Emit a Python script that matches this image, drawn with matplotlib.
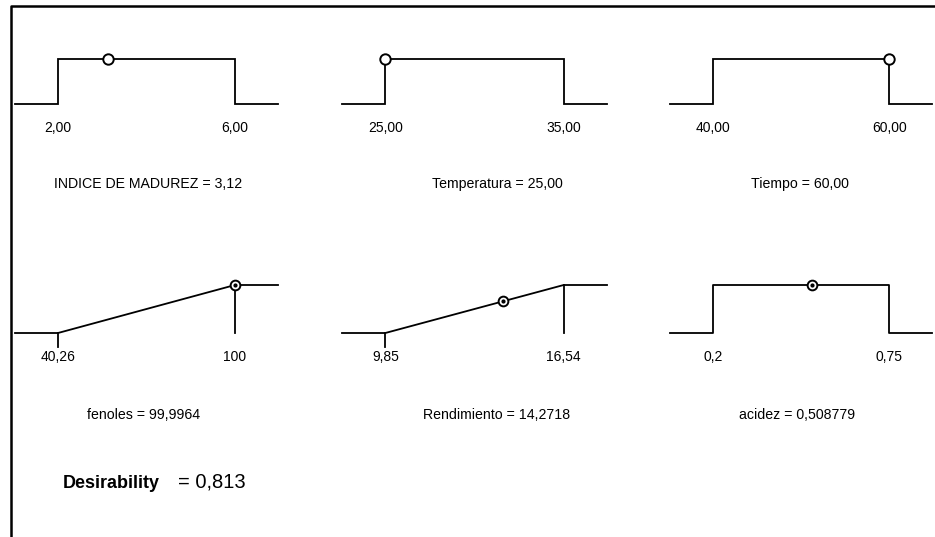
import matplotlib
matplotlib.use("Agg")
import matplotlib.pyplot as plt
from matplotlib.lines import Line2D
from matplotlib import font_manager

# ---------------- data ----------------
factor_names = ["INDICE DE MADUREZ", "Temperatura", "Tiempo"]
factor_low = [2.00, 25.00, 40.00]
factor_high = [6.00, 35.00, 60.00]
factor_low_lbl = ["2,00", "25,00", "40,00"]
factor_high_lbl = ["6,00", "35,00", "60,00"]
factor_value = [3.12, 25.00, 60.00]
factor_value_lbl = ["3,12", "25,00", "60,00"]

resp_names = ["fenoles", "Rendimiento", "acidez"]
resp_kind = ["max", "max", "target"]
resp_low = [40.26, 9.85, 0.2]
resp_high = [100.0, 16.54, 0.75]
resp_low_lbl = ["40,26", "9,85", "0,2"]
resp_high_lbl = ["100", "16,54", "0,75"]
resp_value = [99.9964, 14.2718, 0.508779]
resp_value_lbl = ["99,9964", "14,2718", "0,508779"]

desirability_lbl = "0,813"

# ---------------- layout (pixels) ----------------
W, H = 935, 537
fig = plt.figure(figsize=(W / 100, H / 100), dpi=100)
fig.patch.set_facecolor("white")

avail = {f.name for f in font_manager.fontManager.ttflist}
narrow = "Liberation Sans Narrow" if "Liberation Sans Narrow" in avail else "Liberation Sans"
base = "Liberation Sans"

def px_axes(left, right, y0, y1):
    # y0: pixel row of desirability 0, y1: pixel row of desirability 1
    return fig.add_axes([left / W, (H - y0) / H, (right - left) / W, (y0 - y1) / H])

col_left = [15, 342, 670]
col_right = [278, 607, 932]
row_y0 = [104, 333]
row_y1 = [59, 285]
title_y = [184, 415]
title_x = [[148, 497, 800], [144, 497, 797]]
PADF = 43.0 / 177.0
LW = 1.3
LBL_FS = 11 if narrow != base else 10
TTL_FS = 11 if narrow != base else 10.2


def setup(ax, lo, hi):
    pad = (hi - lo) * PADF
    ax.set_xlim(lo - pad, hi + pad)
    ax.set_ylim(0, 1)
    ax.axis("off")
    return lo - pad, hi + pad


def labels(ax, lo, hi, lo_lbl, hi_lbl):
    for v, t in ((lo, lo_lbl), (hi, hi_lbl)):
        ax.annotate(t, xy=(v, 0), xycoords="data", xytext=(0, -24),
                    textcoords="offset pixels", ha="center", va="center",
                    fontsize=LBL_FS, family=narrow, annotation_clip=False)


# row 1: factors (box shapes)
for i in range(3):
    ax = px_axes(col_left[i], col_right[i], row_y0[0], row_y1[0])
    lo, hi = factor_low[i], factor_high[i]
    xmin, xmax = setup(ax, lo, hi)
    ax.plot([xmin, lo, lo, hi, hi, xmax], [0, 0, 1, 1, 0, 0],
            color="black", lw=LW, clip_on=False, solid_joinstyle="miter")
    ax.plot([factor_value[i]], [1], marker="o", ms=7.5, mfc="white",
            mec="black", mew=1.4, clip_on=False, zorder=5)
    labels(ax, lo, hi, factor_low_lbl[i], factor_high_lbl[i])
    fig.text(title_x[0][i] / W, 1 - title_y[0] / H,
             f"{factor_names[i]} = {factor_value_lbl[i]}",
             ha="center", va="center", fontsize=TTL_FS, family=narrow)

# row 2: responses
for i in range(3):
    ax = px_axes(col_left[i], col_right[i], row_y0[1], row_y1[1])
    lo, hi = resp_low[i], resp_high[i]
    xmin, xmax = setup(ax, lo, hi)
    v = resp_value[i]
    if resp_kind[i] == "max":
        ax.plot([xmin, lo, hi, xmax], [0, 0, 1, 1], color="black", lw=LW,
                clip_on=False)
        ax.plot([hi, hi], [1, 0], color="black", lw=LW, clip_on=False)
        ax.plot([lo, lo], [0, -0.3], color="black", lw=LW, clip_on=False)
        d = min(max((v - lo) / (hi - lo), 0), 1)
    else:
        ax.plot([xmin, lo, lo, hi, hi, xmax], [0, 0, 1, 1, 0, 0],
                color="black", lw=LW, clip_on=False)
        d = 1.0 if lo <= v <= hi else 0.0
    ax.plot([v], [d], marker="o", ms=7, mfc="white", mec="black", mew=1.4,
            clip_on=False, zorder=5)
    ax.plot([v], [d], marker="o", ms=2, mfc="black", mec="black",
            clip_on=False, zorder=6)
    labels(ax, lo, hi, resp_low_lbl[i], resp_high_lbl[i])
    fig.text(title_x[1][i] / W, 1 - title_y[1] / H,
             f"{resp_names[i]} = {resp_value_lbl[i]}",
             ha="center", va="center", fontsize=TTL_FS, family=narrow)

# overall desirability
fig.text(63 / W, 1 - 484 / H, "Desirability", ha="left", va="center",
         fontsize=15 if narrow != base else 13, fontweight="bold", family=narrow)
fig.text(178 / W, 1 - 482 / H, "= " + desirability_lbl, ha="left", va="center",
         fontsize=14.5, family=base)

# frame (left and top border)
fig.add_artist(Line2D([11 / W, 11 / W, 1.0], [0.0, 1 - 6 / H, 1 - 6 / H],
                      transform=fig.transFigure, color="black", lw=1.8))

fig.savefig("out.png", dpi=100, facecolor="white")
